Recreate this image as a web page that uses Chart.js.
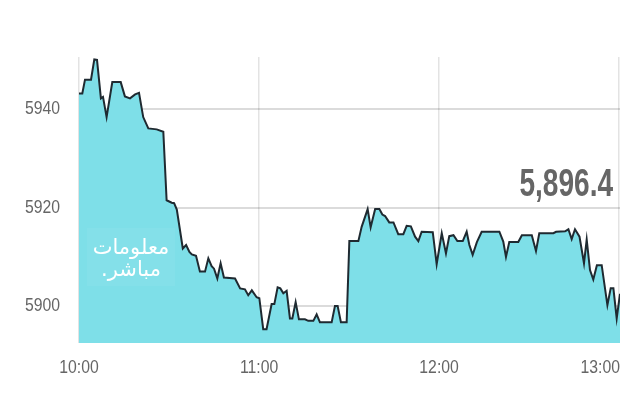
<!DOCTYPE html>
<html>
<head>
<meta charset="utf-8">
<script src="https://cdn.jsdelivr.net/npm/chart.js@4/dist/chart.umd.min.js"></script>
<style>
  html, body { margin: 0; padding: 0; background: #fff; }
  #wrap { position: relative; width: 640px; height: 400px; overflow: hidden; }
  canvas { position: absolute; left: 0; top: 0; }
  #last { position: absolute; right: 27px; top: 162px; font-family: "Liberation Sans", Arial, sans-serif; font-weight: bold; font-size: 39px; line-height: 42px; color: #666; transform: scaleX(0.72); transform-origin: right center; white-space: nowrap; }
  #wm { position: absolute; left: 87px; top: 228px; width: 88px; height: 58px; background: rgba(255,255,255,0.05); color: #fff; font-family: "DejaVu Sans", sans-serif; font-size: 21px; line-height: 22px; text-align: center; direction: rtl; padding-top: 8px; box-sizing: border-box; white-space: nowrap; }
</style>
</head>
<body>
<div id="wrap">
  <canvas id="c" width="640" height="400"></canvas>
  <div id="last">5,896.4</div>
  <div id="wm">معلومات<br>مباشر.</div>
</div>
<script>
// minutes after 10:00
const minutes = [0,1.1,2,4,5.1,6,7.3,8,9.2,11.1,13.9,15.3,17,18.7,20,21.4,23.1,25.9,28.1,29.2,30.9,31.7,32.6,34.6,35.7,36.8,37.6,39,40.3,42,43.1,44.2,45,46.1,47.2,48.3,52,53.7,55.3,56.4,57.6,59.2,60.1,61.4,62.5,64.2,65.1,66.2,67.1,68.1,69.2,70.3,71.1,72.2,73.3,75.3,76.4,78.1,79.2,80.3,84.2,85.3,86.2,87.3,89.2,90.1,93.1,94.2,96.2,97.2,98.7,100.1,101.1,102,103.4,104.8,106.4,108.1,109.2,110.6,112,113.1,114.2,117.9,119.2,120.9,122.3,123.4,124.8,126.1,127.9,129.2,130.1,131.2,132.6,134.2,140.1,141.4,142.3,143.4,146.4,147.6,150.9,152.3,153.4,158.1,159,162,163.1,164.2,165.3,166.8,168.3,169.2,170.3,171.4,172.6,174.2,176.1,177.2,178.1,179.2,180.3];
const values = [5943.2,5943.2,5946,5946,5950.1,5950,5942.2,5942.5,5938.4,5945.5,5945.5,5942.6,5942.2,5943,5943.3,5938.4,5936.1,5935.9,5935.4,5921.5,5921,5920.9,5919.6,5911.7,5912.4,5911,5910.5,5910.2,5907,5907,5909.7,5908.1,5907.6,5905.6,5908.7,5905.8,5905.6,5903.6,5903.4,5902.2,5903.2,5901.8,5901.6,5895.3,5895.3,5900.4,5900.4,5903.8,5903.6,5902.6,5903.1,5897.5,5897.5,5900.8,5897.3,5897.3,5897.0,5897,5898.3,5896.7,5896.7,5900,5900,5896.7,5896.7,5913.2,5913.2,5916.1,5919.7,5916,5919.7,5919.7,5918.6,5918.3,5917,5917,5914.6,5914.6,5916.3,5916.2,5914.1,5913.2,5915.1,5915,5908.5,5914.8,5910.7,5914.2,5914.4,5913.2,5913.2,5915.1,5912.4,5910.4,5913,5915.1,5915.1,5913.1,5910,5913,5913,5914.4,5914.4,5911.2,5914.8,5914.8,5915.1,5915.2,5915.6,5913.6,5915.6,5914.1,5908.7,5913.5,5907.3,5905.4,5908.3,5908.3,5900.2,5903.6,5903.6,5897.5,5902.5];
const xTickValues = [0, 60, 120, 180];
const xTickLabels = ["10:00", "11:00", "12:00", "13:00"];
const yTickValues = [5900, 5920, 5940];

const FONT = '19px "Liberation Sans", Arial, sans-serif';
const SX = 0.83;

function narrowText(ctx, text, x, y, align) {
  ctx.save();
  ctx.translate(x, y);
  ctx.scale(SX, 1);
  ctx.textAlign = align;
  ctx.fillText(text, 0, 0);
  ctx.restore();
}

const axisLabels = {
  id: 'axisLabels',
  afterDraw(chart) {
    const ctx = chart.ctx, xs = chart.scales.x, ys = chart.scales.y, area = chart.chartArea;
    ctx.save();
    ctx.font = FONT;
    ctx.fillStyle = '#666';
    ctx.textBaseline = 'middle';
    xTickValues.forEach((v, i) => {
      const px = xs.getPixelForValue(v);
      if (i === xTickValues.length - 1) narrowText(ctx, xTickLabels[i], area.right, 368, 'right');
      else narrowText(ctx, xTickLabels[i], px, 368, 'center');
    });
    yTickValues.forEach(v => {
      narrowText(ctx, String(v), area.left - 19, ys.getPixelForValue(v), 'right');
    });
    ctx.restore();
  }
};

new Chart(document.getElementById('c'), {
  type: 'line',
  data: {
    datasets: [{
      data: minutes.map((m, i) => ({ x: m, y: values[i] })),
      borderColor: '#1f2a31',
      borderWidth: 2,
      backgroundColor: '#7edfe8',
      fill: 'start',
      pointRadius: 0,
      tension: 0
    }]
  },
  options: {
    responsive: false,
    animation: false,
    devicePixelRatio: 1,
    layout: { padding: { top: 57, right: 20, left: 0, bottom: 0 } },
    plugins: { legend: { display: false }, tooltip: { enabled: false } },
    scales: {
      x: {
        type: 'linear', min: 0, max: 180.3, z: 1,
        afterBuildTicks: s => { s.ticks = xTickValues.map(v => ({ value: v })); },
        afterFit: s => { s.height = 57; },
        ticks: { display: false },
        grid: { color: 'rgba(0,0,0,0.11)', lineWidth: 1.5, drawTicks: false },
        border: { display: false }
      },
      y: {
        min: 5892.5, max: 5950.6, z: 1,
        afterBuildTicks: s => { s.ticks = yTickValues.map(v => ({ value: v })); },
        afterFit: s => { s.width = 79; },
        ticks: { display: false },
        grid: { color: 'rgba(0,0,0,0.14)', lineWidth: 2, drawTicks: false },
        border: { display: false }
      }
    }
  },
  plugins: [axisLabels]
});
</script>
</body>
</html>
